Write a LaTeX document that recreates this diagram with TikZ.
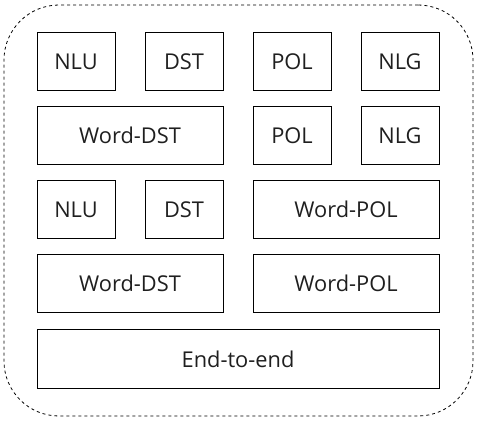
\documentclass[tikz,border=0pt]{standalone}
\usepackage{fontspec}
\setmainfont{Open Sans}
\begin{document}
\begin{tikzpicture}[x=1pt,y=-1pt,
  mod/.style={draw=black, line width=1pt, inner sep=0pt, font=\fontsize{21.8}{24}\selectfont, text=black!88}]
\useasboundingbox (0,0) rectangle (478,422);
\node[draw, dashed, line width=0.8pt, rounded corners=55pt, minimum width=469pt, minimum height=411pt, inner sep=0pt] (outer) at (238.5,210.5) {};
% row 1
\node[mod, minimum width=78pt, minimum height=58pt] (nlu1) at (76,62) {NLU};
\node[mod, minimum width=78pt, minimum height=58pt] (dst1) at (184,62) {DST};
\node[mod, minimum width=78pt, minimum height=58pt] (pol1) at (292,62) {POL};
\node[mod, minimum width=78pt, minimum height=58pt] (nlg1) at (400,62) {NLG};
% row 2
\node[mod, minimum width=186pt, minimum height=58pt] (wdst2) at (130,135.5) {Word-DST};
\node[mod, minimum width=78pt, minimum height=58pt] (pol2) at (292,135.5) {POL};
\node[mod, minimum width=78pt, minimum height=58pt] (nlg2) at (400,135.5) {NLG};
% row 3
\node[mod, minimum width=78pt, minimum height=58pt] (nlu3) at (76,209.5) {NLU};
\node[mod, minimum width=78pt, minimum height=58pt] (dst3) at (184,209.5) {DST};
\node[mod, minimum width=186pt, minimum height=58pt] (wpol3) at (346,209.5) {Word-POL};
% row 4
\node[mod, minimum width=186pt, minimum height=58pt] (wdst4) at (130,283) {Word-DST};
\node[mod, minimum width=186pt, minimum height=58pt] (wpol4) at (346,283) {Word-POL};
% row 5
\node[mod, minimum width=402pt, minimum height=59pt] (e2e) at (238,359) {End-to-end};
\end{tikzpicture}
\end{document}
